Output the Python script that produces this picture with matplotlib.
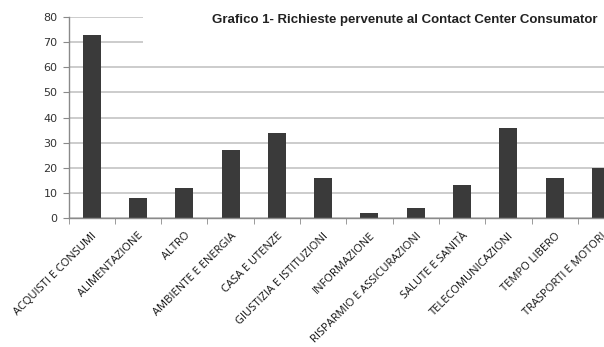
import matplotlib
matplotlib.use("Agg")
import matplotlib.pyplot as plt
from matplotlib.patches import Rectangle
import numpy as np

categories = ["ACQUISTI E CONSUMI", "ALIMENTAZIONE", "ALTRO", "AMBIENTE E ENERGIA",
              "CASA E UTENZE", "GIUSTIZIA E ISTITUZIONI", "INFORMAZIONE",
              "RISPARMIO E ASSICURAZIONI", "SALUTE E SANITÀ", "TELECOMUNICAZIONI",
              "TEMPO LIBERO", "TRASPORTI E MOTORI"]
values = [73, 8, 12, 27, 34, 16, 2, 4, 13, 36, 16, 20]
yticks = [0, 10, 20, 30, 40, 50, 60, 70, 80]
title = "Grafico 1- Richieste pervenute al Contact Center Consumator"

fig = plt.figure(figsize=(6.04, 3.47), dpi=100)
ax = fig.add_axes([68.5 / 604, 129 / 347, 555.6 / 604, 201 / 347])

x = np.arange(len(categories))
ax.bar(x, values, width=0.39, color="#3a3a3a", zorder=2)

ax.set_xlim(-0.5, len(categories) - 0.5)
ax.set_ylim(0, 80)
ax.set_yticks(yticks)
ax.yaxis.grid(True, color="#c4c4c4", linewidth=1.2, zorder=0)
ax.set_axisbelow(True)

for side in ["top", "right"]:
    ax.spines[side].set_visible(False)
for side in ["left", "bottom"]:
    ax.spines[side].set_color("#8a8a8a")
    ax.spines[side].set_linewidth(1.0)

ax.set_xticks(x)
ax.set_xticks(np.arange(-0.5, len(categories)), minor=True)
ax.set_xticklabels(categories, rotation=45, ha="right", rotation_mode="anchor",
                   family="Open Sans", fontsize=8, color="#111111")
ax.tick_params(axis="x", which="major", length=0, pad=9)
ax.tick_params(axis="x", which="minor", length=4, color="#8a8a8a", direction="out")
ax.tick_params(axis="y", length=4, color="#8a8a8a", pad=4, labelsize=8, labelcolor="#333333")

# white box behind the title hides the top gridlines
ax.add_patch(Rectangle((0.134, 0.82), 1.0, 0.4, transform=ax.transAxes,
                       facecolor="white", edgecolor="none", zorder=3, clip_on=False))

fig.text(212 / 604, 1 - 20 / 347, title, ha="left", va="center",
         family="Liberation Sans", weight="bold", fontsize=9.5, color="#222222")

fig.savefig("out.png", dpi=100)
